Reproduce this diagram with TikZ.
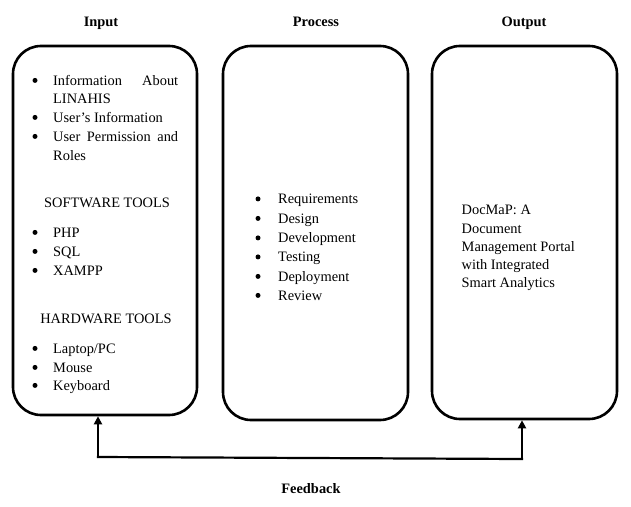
\documentclass[tikz,border=0pt]{standalone}
\usepackage{fontspec}
\setmainfont{Liberation Serif}
\usetikzlibrary{arrows.meta}
\begin{document}
\begin{tikzpicture}[x=1pt,y=-1pt,
  panel/.style={draw,line width=2.6pt,rounded corners=28pt,minimum width=#1,inner sep=0pt},
  title/.style={anchor=base,font=\fontsize{14.4}{17}\selectfont\bfseries,inner sep=0pt},
  txt/.style={anchor=base west,font=\fontsize{14.4}{17}\selectfont,inner sep=0pt},
  ctxt/.style={anchor=base,font=\fontsize{14.4}{17}\selectfont,inner sep=0pt},
  bul/.style={circle,fill,inner sep=0pt,minimum size=5pt,yshift=4.6pt},
  fb/.style={line width=2.2pt,-{Triangle[length=8pt,width=8pt]}}
]
\useasboundingbox (0,0) rectangle (631,506);
% panels
\node[panel=184pt,minimum height=369pt] (box1) at (105,230.5) {};
\node[panel=185pt,minimum height=374pt] (box2) at (315.5,233) {};
\node[panel=185pt,minimum height=373pt] (box3) at (524.5,232.5) {};
% titles
\node[title] (tin) at (101,26) {Input};
\node[title] (tpr) at (316,26) {Process};
\node[title] (tout) at (524,26) {Output};
\node[title] (tfb) at (311,493) {Feedback};
% Input box
\node[bul] (b1) at (35,85) {};
\node[txt,text width=125pt] (i1) at (53,85) {Information\hfill About};
\node[txt] (i1b) at (53,103) {LINAHIS};
\node[bul] (b2) at (35,122) {};
\node[txt] (i2) at (53,122) {User’s Information};
\node[bul] (b3) at (35,141) {};
\node[txt,text width=125pt] (i3) at (53,141) {User\hfill Permission\hfill and};
\node[txt] (i3b) at (53,160) {Roles};
\node[ctxt] (sw) at (107,207) {SOFTWARE TOOLS};
\node[bul] (b4) at (35,237) {};
\node[txt] (s1) at (53,237) {PHP};
\node[bul] (b5) at (35,256) {};
\node[txt] (s2) at (53,256) {SQL};
\node[bul] (b6) at (35,275) {};
\node[txt] (s3) at (53,275) {XAMPP};
\node[ctxt] (hw) at (106,323.5) {HARDWARE TOOLS};
\node[bul] (b7) at (35,353) {};
\node[txt] (h1) at (53,353) {Laptop/PC};
\node[bul] (b8) at (35,372) {};
\node[txt] (h2) at (53,372) {Mouse};
\node[bul] (b9) at (35,390) {};
\node[txt] (h3) at (53,390) {Keyboard};
% Process box
\node[bul] (p1b) at (258,203.5) {};
\node[txt] (p1) at (278,203.5) {Requirements};
\node[bul] (p2b) at (258,223) {};
\node[txt] (p2) at (278,223) {Design};
\node[bul] (p3b) at (258,242.5) {};
\node[txt] (p3) at (278,242.5) {Development};
\node[bul] (p4b) at (258,261.5) {};
\node[txt] (p4) at (278,261.5) {Testing};
\node[bul] (p5b) at (258,281) {};
\node[txt] (p5) at (278,281) {Deployment};
\node[bul] (p6b) at (258,300) {};
\node[txt] (p6) at (278,300) {Review};
% Output box
\node[txt] (o1) at (461.5,214.5) {DocMaP: A};
\node[txt] (o2) at (461.5,233) {Document};
\node[txt] (o3) at (461.5,251.5) {Management Portal};
\node[txt] (o4) at (461.5,269.5) {with Integrated};
\node[txt] (o5) at (461.5,287.5) {Smart Analytics};
% feedback loop
\coordinate (c1) at (98,457);
\coordinate (c3) at (522,459);
\draw[fb] (c1) -- (c1 |- box1.south);
\draw[fb] (c3) -- (c3 |- box3.south);
\draw[line width=2.2pt,line cap=rect] (c1) -- (c3);
\end{tikzpicture}
\end{document}
